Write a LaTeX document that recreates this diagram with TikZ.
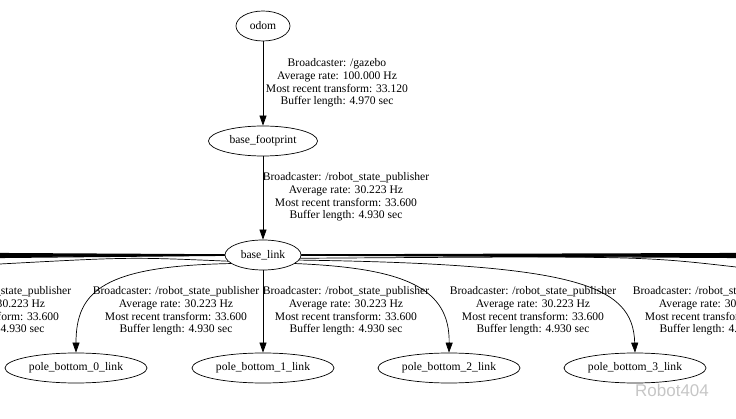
\documentclass[tikz,border=0pt]{standalone}
\usepackage{fontspec}
\setmainfont{Liberation Serif}
\newfontfamily\marksans{Liberation Sans}
\usetikzlibrary{shapes.geometric,arrows.meta}
\tikzset{
  frame/.style={draw,ellipse,line width=0.7pt,inner sep=0pt,minimum height=30pt,
    font=\fontsize{11.6}{12.7}\selectfont},
  tfedge/.style={draw,line width=0.7pt,-{Triangle[length=10pt,width=7pt]}},
  tfinfo/.style={align=center,inner sep=0pt,font=\fontsize{11.6}{12.7}\selectfont},
  bundle/.style={line width=1.1pt}
}
\newcommand\tflabel[4]{Broadcaster: #1\\Average rate: #2\\Most recent transform: #3\\Buffer length: #4}
\begin{document}
\begin{tikzpicture}[x=1pt,y=-1pt]
  \useasboundingbox (0,0) rectangle (736,419);
  \clip (0,0) rectangle (736,419);
  % Frames of the trunk
  \node[frame,minimum width=54pt] (odom) at (263,26) {odom};
  \node[frame,minimum width=109pt] (footprint) at (263,141) {base\_footprint};
  \node[frame,minimum width=76pt] (baselink) at (263,255) {base\_link};
  % Pole frames
  \foreach \i/\x in {0/76,1/263,2/449,3/635}
    \node[frame,minimum width=142pt] (pole\i) at (\x,368) {pole\_bottom\_\i\_link};
  % Trunk edges
  \draw[tfedge] (odom) -- (footprint);
  \node[tfinfo] (info0) at (337,83) {\tflabel{/gazebo}{100.000 Hz}{33.120}{4.970 sec}};
  \draw[tfedge] (footprint) -- (baselink);
  \node[tfinfo] (info1) at (346,197) {\tflabel{/robot\_state\_publisher}{30.223 Hz}{33.600}{4.930 sec}};
  % Edges to the poles
  \draw[tfedge] (baselink.195) .. controls (105,266) and (76,290) .. (pole0.north);
  \draw[tfedge] (baselink) -- (pole1);
  \draw[tfedge] (baselink.-15) .. controls (405,268) and (450,288) .. (pole2.north);
  \draw[tfedge] (baselink.-8) .. controls (575,264) and (633,284) .. (pole3.north);
  \foreach \n/\x in {a/-12,b/176,c/346,d/533,e/716}
    \node[tfinfo] (pinfo\n) at (\x,311) {\tflabel{/robot\_state\_publisher}{30.223 Hz}{33.600}{4.930 sec}};
  % Edges leaving the picture
  \foreach \n/\y in {1/253.5,2/254.5,3/255.5,4/256.5,5/257.5}{
    \coordinate (offw\n) at (0,\y);
    \coordinate (offe\n) at (736,\y);
    \draw[bundle] (baselink) -- (offw\n);
    \draw[bundle] (baselink) -- (offe\n);
  }
  \coordinate (offw6) at (0,264);
  \coordinate (offe6) at (736,267);
  \draw[line width=0.7pt] (baselink.190) .. controls (130,257) .. (offw6);
  \draw[line width=0.7pt] (baselink.-5) .. controls (640,256) .. (offe6);
  % Watermark
  \node[text=gray!45,font=\marksans\fontsize{17}{17}\selectfont] (mark) at (672,390) {Robot404};
\end{tikzpicture}
\end{document}
